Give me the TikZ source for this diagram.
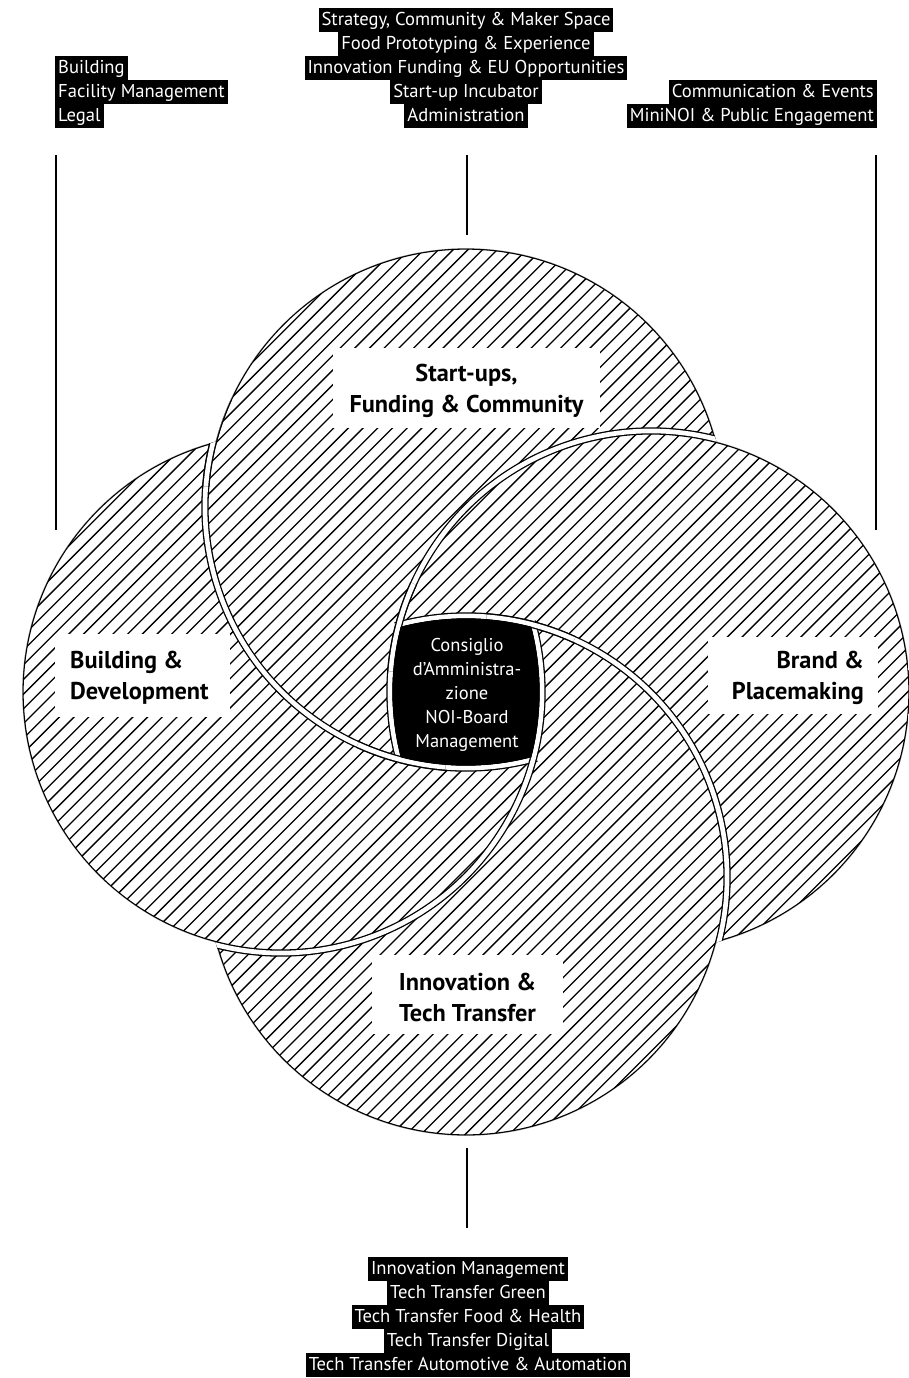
\documentclass[tikz,border=0pt]{standalone}
\usepackage{fontspec}
\setmainfont{PT Sans}
\newcommand\casearc[3]{%
  \draw[black,line width=7.3pt] (#1) ++(#2:261) arc[start angle=#2,end angle=#3,radius=261];
  \draw[white,line width=4.7pt] (#1) ++(#2:261) arc[start angle=#2,end angle=#3,radius=261];
}
\begin{document}
\begin{tikzpicture}[x=1pt,y=-1pt,
  tag/.style={fill=black,text=white,inner xsep=3pt,inner ysep=0pt,
     minimum height=24pt,text height=14.5pt,text depth=3pt,
     font=\fontsize{18.6}{22}\selectfont},
  titlebox/.style={fill=white,inner sep=0pt},
  title/.style={inner sep=0pt,font=\bfseries\fontsize{24.3}{31}\selectfont},
  hatchline/.style={line width=1.3pt},
  lead/.style={line width=1.4pt},
]
\useasboundingbox (0,0) rectangle (909,1378);
\fill[white] (0,0) rectangle (909,1378);
\coordinate (cT) at (466,507);
\coordinate (cL) at (281,692);
\coordinate (cR) at (651,692);
\coordinate (cB) at (466,877);
% hatch
\begin{scope}
  \clip (cT) circle[radius=258] (cL) circle[radius=258] (cR) circle[radius=258] (cB) circle[radius=258];
  \foreach \c in {600,614.7,...,1730} \draw[hatchline] (0,\c) -- (909,{\c-909});
\end{scope}
% woven outlines
\begin{scope}
  \clip (cT) circle[radius=258.65] (cL) circle[radius=258.65] (cR) circle[radius=258.65] (cB) circle[radius=258.65];
  \casearc{cT}{74.3}{345.5}
  \casearc{cR}{164.3}{435.5}
  \casearc{cB}{254.3}{525.5}
  \casearc{cL}{344.3}{615.5}
  \casearc{cT}{184.5}{204.5}
  \casearc{cR}{184.5}{204.5}
  \casearc{cB}{274.5}{294.5}
  \casearc{cT}{94.5}{114.5}
\end{scope}
% central board area
\begin{scope}
  \clip (cT) circle[radius=258.65];
  \clip (cL) circle[radius=258.65];
  \clip (cR) circle[radius=258.65];
  \fill[black] (cB) circle[radius=258.65];
\end{scope}
\node[text=white,align=center,font=\fontsize{18.5}{24}\selectfont] (board) at (467,695)
  {Consiglio\\d'Amministra-\\zione\\NOI-Board\\Management};
% title boxes
\node[titlebox,minimum width=267pt,minimum height=80pt] (startupsbox) at (466.5,388) {};
\node[titlebox,minimum width=175pt,minimum height=83pt] (buildingbox) at (142.5,675) {};
\node[titlebox,minimum width=170pt,minimum height=77pt] (brandbox) at (793,675.5) {};
\node[titlebox,minimum width=191pt,minimum height=79pt] (innovbox) at (467.5,994) {};
% titles
\node[title,align=center] (startups) at (466.5,390.5) {Start-ups,\\Funding \& Community};
\node[title,anchor=west,align=left] (building) at (70,678) {Building \&\\Development};
\node[title,anchor=east,align=right] (brand) at (864,678) {Brand \&\\Placemaking};
\node[title,align=center] (innov) at (467.5,997) {Innovation \&\\Tech Transfer};
% top tags
\node[tag] (t1) at (466,20) {Strategy, Community \& Maker Space};
\node[tag] (t2) at (466,44) {Food Prototyping \& Experience};
\node[tag] (t3) at (466,68) {Innovation Funding \& EU Opportunities};
\node[tag] (t4) at (466,92) {Start-up Incubator};
\node[tag] (t5) at (466,116) {Administration};
% left tags
\node[tag,anchor=west] (b1) at (55,68) {Building};
\node[tag,anchor=west] (b2) at (55,92) {Facility Management};
\node[tag,anchor=west] (b3) at (55,116) {Legal};
% right tags
\node[tag,anchor=east] (p1) at (877,92) {Communication \& Events};
\node[tag,anchor=east] (p2) at (877,116) {MiniNOI \& Public Engagement};
% bottom tags
\node[tag] (i1) at (468,1269) {Innovation Management};
\node[tag] (i2) at (468,1293) {Tech Transfer Green};
\node[tag] (i3) at (468,1317) {Tech Transfer Food \& Health};
\node[tag] (i4) at (468,1341) {Tech Transfer Digital};
\node[tag] (i5) at (468,1365) {Tech Transfer Automotive \& Automation};
% leader lines
\coordinate (lA) at (56,155);  \coordinate (lB) at (56,530);
\coordinate (tA) at (467,155); \coordinate (tB) at (467,235);
\coordinate (rA) at (876,155); \coordinate (rB) at (876,530);
\coordinate (uA) at (467,1148); \coordinate (uB) at (467,1228);
\draw[lead] (lA) -- (lB);
\draw[lead] (tA) -- (tB);
\draw[lead] (rA) -- (rB);
\draw[lead] (uA) -- (uB);
\end{tikzpicture}
\end{document}
